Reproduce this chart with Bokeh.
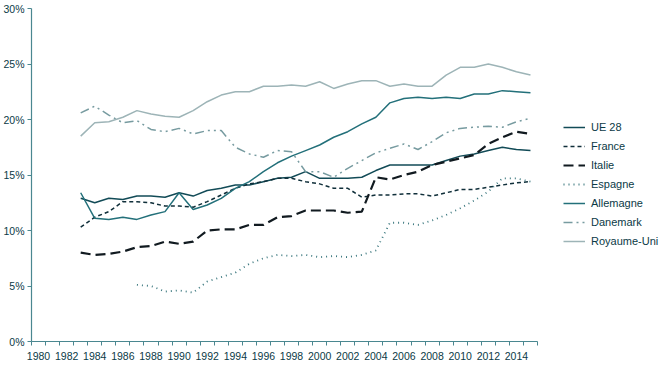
from bokeh.plotting import figure
from bokeh.models import FixedTicker, PrintfTickFormatter, Legend, LegendItem, Range1d
from bokeh.embed import file_html
from bokeh.resources import INLINE

years = list(range(1983, 2016))
years_es = list(range(1987, 2016))

ue28 = [12.9, 12.5, 12.9, 12.8, 13.1, 13.1, 13.0, 13.4, 13.1, 13.6, 13.8, 14.1, 14.1,
        14.4, 14.7, 14.8, 15.3, 14.7, 14.7, 14.7, 14.8, 15.4, 15.9, 15.9, 15.9, 15.9,
        16.3, 16.7, 16.9, 17.2, 17.5, 17.3, 17.2]
france = [10.3, 11.2, 11.7, 12.6, 12.6, 12.5, 12.2, 12.2, 12.1, 12.6, 13.2, 13.8, 14.2,
          14.4, 14.7, 14.7, 14.4, 14.2, 13.8, 13.8, 13.0, 13.2, 13.2, 13.3, 13.3, 13.1,
          13.4, 13.7, 13.7, 13.9, 14.1, 14.3, 14.4]
italie = [8.0, 7.8, 7.9, 8.1, 8.5, 8.6, 9.0, 8.8, 9.0, 10.0, 10.1, 10.1, 10.5,
          10.5, 11.2, 11.3, 11.8, 11.8, 11.8, 11.6, 11.7, 14.8, 14.6, 15.0, 15.3, 15.9,
          16.2, 16.5, 16.8, 17.8, 18.4, 18.9, 18.7]
espagne = [5.1, 5.0, 4.5, 4.6, 4.4, 5.4, 5.8, 6.2, 7.0,
           7.5, 7.8, 7.7, 7.8, 7.6, 7.7, 7.6, 7.8, 8.2, 10.7, 10.7, 10.5, 10.9,
           11.4, 12.0, 12.7, 13.5, 14.7, 14.7, 14.4]
allemagne = [13.4, 11.1, 11.0, 11.2, 11.0, 11.4, 11.7, 13.4, 11.9, 12.3, 12.9, 13.8, 14.4,
             15.3, 16.1, 16.7, 17.2, 17.7, 18.4, 18.9, 19.6, 20.2, 21.5, 21.9, 22.0, 21.9,
             22.0, 21.9, 22.3, 22.3, 22.6, 22.5, 22.4]
danemark = [20.6, 21.2, 20.4, 19.7, 19.9, 19.1, 18.9, 19.2, 18.7, 19.0, 19.0, 17.5, 16.9,
            16.6, 17.2, 17.1, 15.3, 15.3, 14.8, 15.6, 16.3, 17.0, 17.4, 17.8, 17.3, 18.0,
            18.8, 19.2, 19.3, 19.4, 19.3, 19.8, 20.1]
royaume_uni = [18.5, 19.7, 19.8, 20.2, 20.8, 20.5, 20.3, 20.2, 20.8, 21.6, 22.2, 22.5, 22.5,
               23.0, 23.0, 23.1, 23.0, 23.4, 22.8, 23.2, 23.5, 23.5, 23.0, 23.2, 23.0, 23.0,
               24.0, 24.7, 24.7, 25.0, 24.7, 24.3, 24.0]

tick_years = list(range(1980, 2015, 2))
y_ticks = [0, 5, 10, 15, 20, 25, 30]

TXT = "#0b3a46"
AX = "#4a8790"
FONT = "Liberation Sans"

p = figure(frame_width=506, frame_height=333, output_backend="svg", toolbar_location=None,
           x_range=Range1d(1979.5, 2015.5), y_range=Range1d(0, 30),
           min_border_top=8, min_border_left=0, min_border_bottom=0, min_border_right=124)
p.outline_line_color = None
p.xgrid.visible = False
p.ygrid.visible = False

p.xaxis.ticker = FixedTicker(ticks=tick_years, minor_ticks=[y + 0.5 for y in range(1979, 2016)])
p.xaxis.minor_tick_line_color = AX
p.xaxis.minor_tick_out = 4
p.xaxis.minor_tick_in = 0
p.yaxis.ticker = FixedTicker(ticks=y_ticks)
p.yaxis.formatter = PrintfTickFormatter(format="%d%%")
p.yaxis.major_tick_out = 4
p.yaxis.major_tick_in = 0
p.yaxis.minor_tick_line_color = None
for ax in (p.xaxis[0], p.yaxis[0]):
    ax.axis_line_color = AX
    ax.axis_line_width = 1.2
    ax.major_label_text_font = FONT
    ax.major_label_text_font_size = "10.5px"
    ax.major_label_text_color = TXT
    ax.major_label_standoff = 3
p.yaxis.major_tick_line_color = AX
p.xaxis.major_tick_line_color = None
p.xaxis.major_label_standoff = 4

r_ue = p.line(years, ue28, line_color="#124b57", line_width=1.5)
r_fr = p.line(years, france, line_color="#102f3a", line_width=1.5, line_dash="4 3")
r_it = p.line(years, italie, line_color="#111a20", line_width=2.2, line_dash="10 5")
r_es = p.line(years_es, espagne, line_color="#3a777e", line_width=1.8, line_dash="1 4")
r_de = p.line(years, allemagne, line_color="#23707a", line_width=1.5)
r_dk = p.line(years, danemark, line_color="#779ba0", line_width=1.5, line_dash="9 4 2 4 2 4")
r_uk = p.line(years, royaume_uni, line_color="#9db4b7", line_width=1.5)

legend = Legend(items=[
    LegendItem(label="UE 28", renderers=[r_ue]),
    LegendItem(label="France", renderers=[r_fr]),
    LegendItem(label="Italie", renderers=[r_it]),
    LegendItem(label="Espagne", renderers=[r_es]),
    LegendItem(label="Allemagne", renderers=[r_de]),
    LegendItem(label="Danemark", renderers=[r_dk]),
    LegendItem(label="Royaume-Uni", renderers=[r_uk]),
], location=(26, 92))
legend.border_line_color = None
legend.background_fill_alpha = 0
legend.label_text_font = FONT
legend.label_text_font_size = "11px"
legend.label_text_color = TXT
legend.glyph_width = 22
legend.glyph_height = 16
legend.label_height = 16
legend.spacing = 3
legend.label_standoff = 6
legend.margin = 0
legend.padding = 4
p.add_layout(legend, "right")

html = file_html(p, INLINE)
html = html.replace("</head>", "<style>html,body{overflow:hidden}</style></head>")
open("out.html", "w").write(html)
